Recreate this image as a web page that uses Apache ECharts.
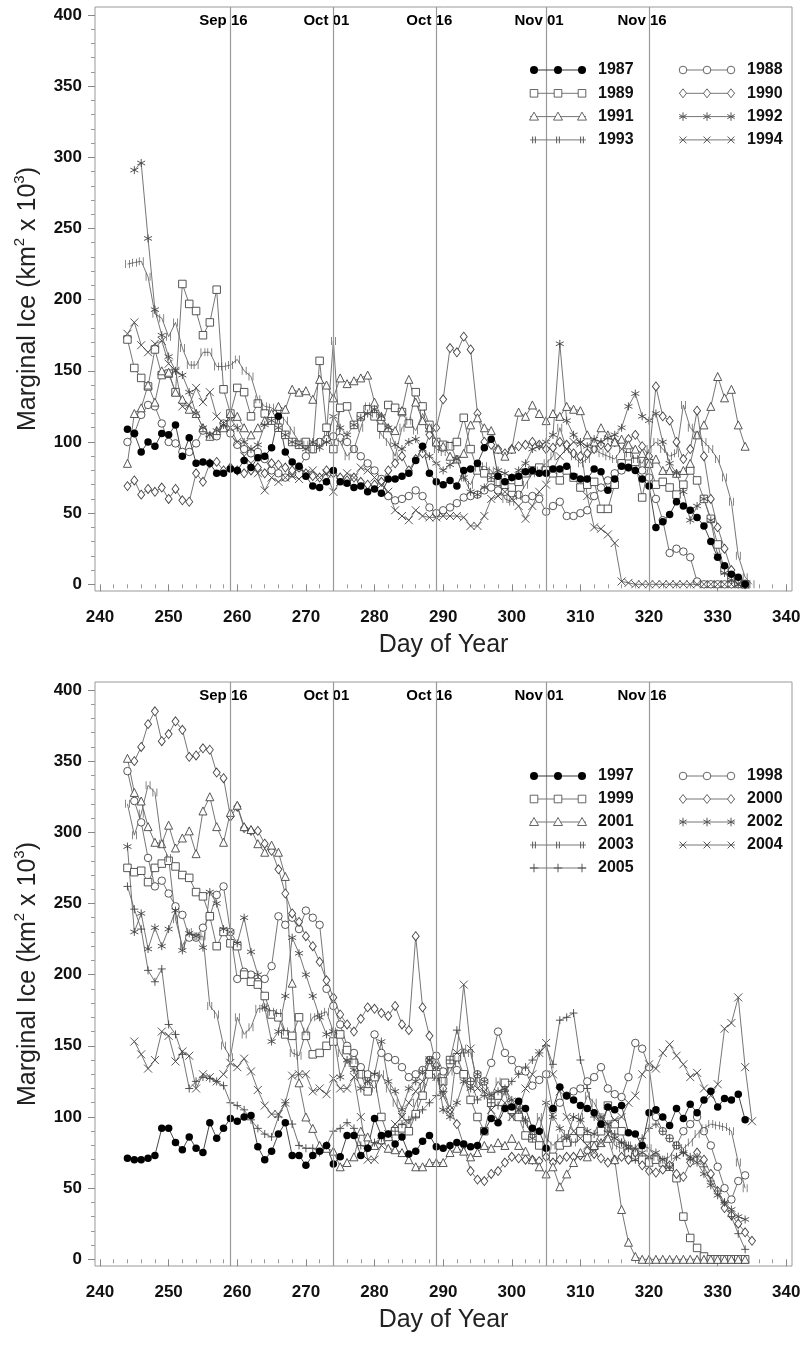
<!DOCTYPE html>
<html><head><meta charset="utf-8">
<script src="https://cdn.jsdelivr.net/npm/echarts@6/dist/echarts.min.js"></script>
<style>html,body{margin:0;padding:0;background:#fff}#c{width:809px;height:1366px}</style>
</head><body><div id="c"></div>
<script>
// ---------------- DATA ----------------
const DAY0 = 244; // first day of year of each series array
const X_TICKS = [240,250,260,270,280,290,300,310,320,330,340];
const X_MINOR = [242,244,246,248,252,254,256,258,262,264,266,268,272,274,276,278,282,284,286,288,292,294,296,298,302,304,306,308,312,314,316,318,322,324,326,328,332,334,336,338];
const Y_TICKS = [0,50,100,150,200,250,300,350,400];
const Y_MINOR = [10,20,30,40,60,70,80,90,110,120,130,140,160,170,180,190,210,220,230,240,260,270,280,290,310,320,330,340,360,370,380,390];
const DATE_DAYS = [259,274,289,305,320];
const DATE_LABELS = ['Sep 16','Oct 01','Oct 16','Nov 01','Nov 16'];

const TOP_YEARS = ['1987','1988','1989','1990','1991','1992','1993','1994'];
const BOTTOM_YEARS = ['1997','1998','1999','2000','2001','2002','2003','2004','2005'];

const y1987 = [109,106,93,100,97,106,105,112,90,103, 85,86,85,78,78,81,80,87,82,89, 90,96,118,93,86,83,76,69,68,72, 80,72,71,68,69,65,67,64,74,74, 76,78,87,97,78,72,70,73,69,80, 81,85,96,102,76,72,75,76,79,80, 78,78,81,81,83,76,74,74,81,79, 66,74,83,82,80,74,69,40,44,49, 58,55,52,47,41,30,19,13,7,5, 0];
const y1988 = [100,106,119,126,125,113,100,99,93,93, 99,108,104,104,113,106,98,95,92,93, 88,80,78,75,78,82,90,95,100,102, 104,103,100,95,90,85,80,74,62,59, 60,62,66,62,54,50,52,54,57,61, 62,63,66,68,66,65,64,63,60,62, 60,51,55,58,48,48,50,52,62,68, 73,78,80,82,86,80,75,60,45,22, 25,23,19,2,0,0,0,0,0,0, 0];
const y1989 = [172,152,145,139,165,147,148,135,211,197, 192,175,184,207,137,120,138,135,118,127, 120,115,110,105,100,98,100,95,157,110, 95,124,125,112,118,123,118,110,126,124, 121,113,135,125,112,100,98,97,100,117, 95,80,78,75,72,70,68,72,78,80, 82,80,78,73,80,75,68,70,72,53, 53,70,85,90,86,61,85,70,72,68, 63,70,80,73,60,46,28,10,5,2, 0];
const y1990 = [69,73,63,67,65,68,60,67,59,58, 78,72,85,86,80,82,80,78,80,82, 78,85,84,82,80,82,78,76,75,80, 78,75,73,75,72,70,70,72,80,85, 90,80,88,92,105,110,130,166,163,174, 165,120,100,98,95,92,95,97,98,100, 98,95,96,100,98,92,90,92,95,98, 96,100,98,102,105,97,90,139,118,115, 100,88,95,122,90,60,40,25,10,3, 0];
const y1991 = [85,120,124,140,128,150,149,135,130,123, 120,110,104,108,110,120,118,110,105,110, 115,120,125,123,137,135,136,130,144,140, 131,145,141,143,145,147,128,118,110,108, 122,144,128,115,110,100,97,90,88,92, 112,117,110,108,95,90,95,121,118,126, 120,115,120,118,125,123,122,105,100,110, 105,100,102,98,95,92,85,88,80,80, 78,80,85,105,112,125,146,131,137,112, 97];
const y1992 = [null,291,296,243,193,175,160,150,147,135, 120,110,105,108,112,116,110,100,95,98, 112,115,110,105,100,98,95,100,96,100, 118,110,105,112,117,120,123,118,110,98, 95,100,102,95,90,85,80,84,88,75, 65,63,68,75,80,78,75,80,85,95, 97,100,105,169,115,105,100,97,102,100, 103,105,110,125,134,118,115,120,100,85, 78,65,45,55,60,45,20,8,3,0, 0];
const y1993 = [225,226,227,216,190,187,174,184,166,154, 154,163,163,153,153,154,158,150,146,130, 125,124,120,115,108,100,98,95,100,105, 171,100,90,95,110,125,120,105,100,90, 110,115,108,120,110,95,93,98,88,75, 70,82,83,80,72,60,58,62,70,78, 80,85,90,110,95,90,85,88,95,92, 90,88,95,92,88,85,95,100,95,90, 92,126,110,105,100,95,88,75,58,20, 5,0];
const y1994 = [176,184,168,163,169,171,155,150,125,126, 138,128,135,118,113,110,100,90,85,78, 66,75,72,75,76,74,78,80,75,78, 65,72,78,75,82,80,75,70,65,52, 48,45,52,48,47,47,48,48,48,47, 41,41,48,60,62,65,60,55,46,55, 65,70,80,90,95,100,99,62,40,39, 35,29,2,1,0,0,0,0,0,0, 0,0,0,0,0,0,0,0,0,0, 0];

const y1997 = [71,70,70,71,73,92,92,82,77,86, 78,75,96,85,92,99,97,100,101,79, 70,76,88,96,73,73,66,73,76,80, 67,72,87,87,73,78,99,87,88,81, 86,74,76,83,87,79,78,80,82,81, 79,80,90,99,96,106,107,111,106,92, 90,78,106,121,115,112,108,106,103,95, 107,105,108,89,88,80,103,105,100,94, 106,99,109,103,112,118,107,113,112,116, 98];
const y1998 = [343,322,307,282,262,266,257,248,242,226, 226,233,241,256,262,230,197,202,200,195, 197,206,241,235,240,232,245,240,235,190, 178,165,150,145,135,130,158,145,142,140, 135,128,130,133,140,143,132,137,133,130, 125,130,125,138,160,145,140,133,132,122, 126,130,105,110,115,118,120,125,128,135, 120,116,114,128,152,148,135,100,90,85, 80,90,95,100,90,80,65,50,42,55, 59];
const y1999 = [275,272,273,265,275,278,280,276,270,268, 258,255,241,220,230,222,220,200,195,193, 185,172,170,158,157,170,157,144,145,150, 153,158,147,138,130,118,128,100,86,90, 92,90,102,115,130,130,125,140,142,130, 112,100,90,110,115,124,105,100,87,85, 80,75,72,80,82,85,90,85,80,90, 108,95,90,75,72,70,68,70,68,65, 57,30,15,8,2,0,0,0,0,0, 0];
const y2000 = [null,350,360,376,385,364,369,378,372,353, 354,359,358,342,338,311,318,303,301,301, 292,287,274,257,243,237,227,220,209,196, 184,172,165,160,169,177,176,173,171,178, 165,161,227,177,157,136,120,105,95,80, 62,56,55,60,62,68,72,71,70,70, 69,72,68,70,72,72,73,76,74,71, 68,70,72,70,75,66,62,61,63,66, 60,58,68,75,70,60,48,36,31,25, 19,13];
const y2001 = [352,328,322,304,293,292,305,289,296,301, 285,315,325,304,293,314,319,304,302,292, 286,291,286,269,194,124,100,92,80,78, 76,65,68,72,90,86,80,84,78,77, 75,70,65,65,68,68,68,75,78,76, 72,75,80,78,82,80,85,80,76,70, 65,60,65,51,60,68,75,72,80,82, 85,70,35,12,2,0,0,0,0,0, 0,0,0,0,0,0,0,0,0,0, 0];
const y2002 = [290,230,243,218,233,220,232,245,217,229, 227,219,258,250,232,230,222,240,216,200, 177,153,160,185,226,215,200,185,170,158, 160,128,140,133,120,125,130,153,125,118, 105,120,125,132,140,135,105,100,110,125, 120,130,125,115,118,120,112,105,98,85, 90,110,100,92,85,100,98,90,88,100, 95,85,82,78,70,75,72,75,70,65, 72,75,72,68,60,52,45,40,35,30, 28];
const y2003 = [320,298,313,333,328,292,282,239,220,230, 227,227,178,172,150,142,170,158,163,176, 177,174,173,160,145,143,160,170,172,174, 160,145,138,140,130,125,120,130,120,110, 100,95,110,120,140,128,125,132,140,148, 145,125,120,115,125,118,100,110,95,88, 100,85,80,85,88,82,100,115,110,100, 95,80,78,80,75,80,78,72,70,72, 80,78,82,88,92,95,94,93,90,68, 50];
const y2004 = [null,153,144,134,140,160,157,139,146,143, 120,130,128,125,130,138,135,141,132,119, 108,102,102,110,129,130,130,118,120,116, 127,120,120,128,100,70,70,80,88,95, 100,110,118,125,140,128,115,105,145,193, 148,120,118,105,98,110,100,105,120,130, 145,152,130,118,100,90,85,80,75,82, 88,98,100,110,115,130,137,134,145,151, 143,137,128,131,120,115,123,162,166,184, 135,97];
const y2005 = [262,246,232,203,195,204,165,158,144,120, 125,128,127,125,122,110,108,105,98,92, 88,86,100,110,95,80,78,78,75,80, 90,92,96,92,80,78,82,85,88,90, 95,98,100,105,110,115,118,140,161,145, 125,112,115,110,108,118,125,130,135,140, 145,150,137,168,170,173,140,120,100,95, 90,88,82,80,78,85,92,95,90,85, 80,75,70,72,65,55,48,40,30,18, 7];

const TOP_DATA = [y1987,y1988,y1989,y1990,y1991,y1992,y1993,y1994];
const BOTTOM_DATA = [y1997,y1998,y1999,y2000,y2001,y2002,y2003,y2004,y2005];

// ---------------- STYLE ----------------
const FONT = '"Liberation Sans", Arial, Helvetica, sans-serif';
const LINE = '#666';
const MK = '#444';
const KINDS = ['dot','circle','square','diamond','triangle','asterisk','hash','cross','plus'];
const PATHS = {
  asterisk: 'M0,-5L0,5M-4.33,-2.5L4.33,2.5M-4.33,2.5L4.33,-2.5',
  hash: 'M-1.6,-4L-1.6,4M1.6,-4L1.6,4',
  cross: 'M-4,-4L4,4M-4,4L4,-4',
  plus: 'M0,-5L0,5M-5,0L5,0'
};
const XMIN = 239.27, XMAX = 340.83, YMIN = -4.7, YMAX = 405.6;
const GRIDS = [{left:95, top:7, width:697, height:584},{left:95, top:682, width:697, height:584}];

function symbolOpts(kind){
  const hollow = {color:'#fff', borderColor:MK, borderWidth:0.9};
  switch(kind){
    case 'dot': return {symbol:'circle', symbolSize:7.5, itemStyle:{color:'#000', borderWidth:0}};
    case 'circle': return {symbol:'circle', symbolSize:7.5, itemStyle:hollow};
    case 'square': return {symbol:'rect', symbolSize:7.5, itemStyle:hollow};
    case 'diamond': return {symbol:'diamond', symbolSize:[7,9], itemStyle:hollow};
    case 'triangle': return {symbol:'triangle', symbolSize:8, itemStyle:hollow};
    default: return {symbol:'path://'+PATHS[kind], symbolSize: kind==='hash'?[4,8]:8,
      itemStyle:{color:'rgba(0,0,0,0)', borderColor:MK, borderWidth:0.9}};
  }
}

function makeAxes(g){
  const xMain = {type:'value', gridIndex:g, min:XMIN, max:XMAX, position:'bottom',
    axisLine:{show:false}, splitLine:{show:false},
    axisTick:{show:true, customValues:X_TICKS, length:7, lineStyle:{color:'#888'}},
    axisLabel:{customValues:X_TICKS, margin:18, fontSize:17, fontWeight:'bold', color:'#111', fontFamily:FONT},
    name:'Day of Year', nameLocation:'middle', nameGap:42,
    nameTextStyle:{fontSize:25, color:'#222', fontFamily:FONT}};
  const xMinor = {type:'value', gridIndex:g, min:XMIN, max:XMAX, position:'bottom',
    axisLine:{show:false}, splitLine:{show:false}, axisLabel:{show:false},
    axisTick:{show:true, customValues:X_MINOR, length:4, lineStyle:{color:'#999'}}};
  const yMain = {type:'value', gridIndex:g, min:YMIN, max:YMAX, position:'left',
    axisLine:{show:false}, splitLine:{show:false},
    axisTick:{show:true, customValues:Y_TICKS, length:7, lineStyle:{color:'#888'}},
    axisLabel:{customValues:Y_TICKS, margin:13, fontSize:17, fontWeight:'bold', color:'#111', fontFamily:FONT},
    name:'Marginal Ice (km{sup|2} x 10{sup|3})', nameLocation:'middle', nameGap:45,
    nameTextStyle:{fontSize:25, color:'#222', fontFamily:FONT, lineHeight:30,
      rich:{sup:{fontSize:15, color:'#222', fontFamily:FONT, verticalAlign:'top', lineHeight:30}}}};
  const yMinor = {type:'value', gridIndex:g, min:YMIN, max:YMAX, position:'left', offset:0,
    axisLine:{show:false}, splitLine:{show:false}, axisLabel:{show:false},
    axisTick:{show:true, customValues:Y_MINOR, length:4, lineStyle:{color:'#999'}}};
  return {x:[xMain,xMinor], y:[yMain,yMinor]};
}

const xAxis = [], yAxis = [];
[0,1].forEach(g => { const a = makeAxes(g); xAxis.push(...a.x); yAxis.push(...a.y); });

const series = [];
function addPanel(g, years, data){
  series.push({type:'scatter', xAxisIndex:2*g, yAxisIndex:2*g, silent:true, z:1,
    data: DATE_DAYS.map(d => [d, 390]), symbolSize:1, itemStyle:{color:'rgba(0,0,0,0)'},
    label:{show:true, position:'top', distance:0, offset:[-7,0], formatter: p => DATE_LABELS[p.dataIndex],
      fontSize:15, fontWeight:'bold', color:'#000', opacity:1, textBorderWidth:0, fontFamily:FONT},
    markLine:{silent:true, symbol:['none','none'], label:{show:false},
      lineStyle:{color:'#999', width:1.2, type:'solid'},
      data: DATE_DAYS.map(d => ({xAxis:d}))}});
  const order = years.map((_,i)=>i).slice(1).concat([0]);
  order.forEach(i => {
    const s = Object.assign({type:'line', name:years[i], xAxisIndex:2*g, yAxisIndex:2*g, z:3,
      data: data[i].map((v,k) => [DAY0+k, v]), connectNulls:false, showSymbol:true,
      lineStyle:{color: i===0 ? '#333' : LINE, width:0.9}}, symbolOpts(KINDS[i]));
    series.push(s);
  });
}
addPanel(0, TOP_YEARS, TOP_DATA);
addPanel(1, BOTTOM_YEARS, BOTTOM_DATA);

// ---------------- LEGEND (drawn as graphics) ----------------
function pathSegments(p){
  const segs = []; const re = /M([-\d.]+),([-\d.]+)L([-\d.]+),([-\d.]+)/g; let m;
  while ((m = re.exec(p))) segs.push([+m[1],+m[2],+m[3],+m[4]]);
  return segs;
}
function markerEls(kind, cx, cy){
  const st = {fill:'#fff', stroke:'#555', lineWidth:0.9};
  switch(kind){
    case 'dot': return [{type:'circle', shape:{cx, cy, r:4}, style:{fill:'#000'}}];
    case 'circle': return [{type:'circle', shape:{cx, cy, r:3.8}, style:st}];
    case 'square': return [{type:'rect', shape:{x:cx-3.8, y:cy-3.8, width:7.6, height:7.6}, style:st}];
    case 'diamond': return [{type:'polygon', shape:{points:[[cx,cy-4.5],[cx+3.5,cy],[cx,cy+4.5],[cx-3.5,cy]]}, style:st}];
    case 'triangle': return [{type:'polygon', shape:{points:[[cx,cy-4.5],[cx+4.5,cy+3.5],[cx-4.5,cy+3.5]]}, style:st}];
    default: return pathSegments(PATHS[kind]).map(s => ({type:'line',
      shape:{x1:cx+s[0]*0.85, y1:cy+s[1]*0.85, x2:cx+s[2]*0.85, y2:cy+s[3]*0.85}, style:{stroke:'#555', lineWidth:1}}));
  }
}
const graphic = [];
function addLegend(years, y0, dy){
  years.forEach((yr, i) => {
    const col = i % 2, row = Math.floor(i / 2);
    const mx = col === 0 ? [534,558,582] : [683,707,731];
    const tx = col === 0 ? 598 : 747;
    const y = y0 + row * dy;
    const kind = KINDS[i];
    graphic.push({type:'line', shape:{x1:mx[0]-4, y1:y, x2:mx[2]+4, y2:y}, style:{stroke: i===0?'#333':'#777', lineWidth:1}, z:10});
    mx.forEach(x => markerEls(kind, x, y).forEach(e => { e.z = 11; graphic.push(e); }));
    graphic.push({type:'text', x:tx, y:y, z:11, style:{text:yr, fontSize:16, fontWeight:'bold', fontFamily:FONT, fill:'#111', verticalAlign:'middle'}});
  });
}
addLegend(TOP_YEARS, 70, 23.3);
addLegend(BOTTOM_YEARS, 776, 23);

const chart = echarts.init(document.getElementById('c'), null, {renderer:'canvas'});
chart.setOption({
  animation:false,
  backgroundColor:'#fff',
  grid: GRIDS.map(g => Object.assign({show:true, borderColor:'#999', borderWidth:1, backgroundColor:'transparent', containLabel:false}, g)),
  xAxis, yAxis, series, graphic
});
</script></body></html>
